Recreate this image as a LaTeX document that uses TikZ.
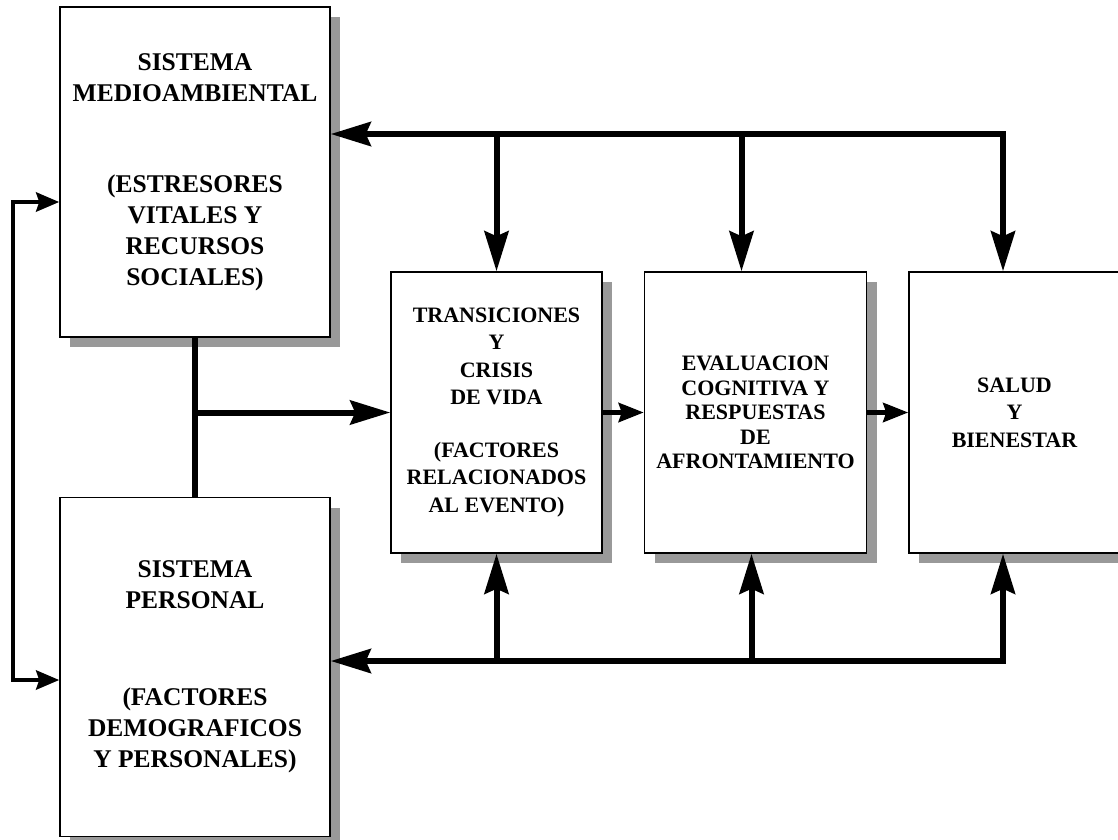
\documentclass[tikz,border=0pt]{standalone}
\usepackage{fontspec}
\setmainfont{Liberation Serif}
\usetikzlibrary{arrows.meta, positioning, shadows, calc}

\begin{document}
\begin{tikzpicture}[
    x=1pt, y=1pt,
    box/.style={rectangle, draw, line width=1.5pt, fill=white, inner sep=0pt, align=center,
        font=\bfseries\fontsize{22}{27.5}\selectfont,
        drop shadow={shadow xshift=10pt, shadow yshift=-10pt, fill=black!40, opacity=1}},
    bigbox/.style={box, minimum width=270pt, font=\bfseries\fontsize{25.5}{31}\selectfont},
    midbox/.style={box, minimum height=281pt},
    arrow/.style={-{Stealth[length=40pt, width=24pt, inset=5pt]}, line width=6pt},
    twoway/.style={{Stealth[length=40pt, width=24pt, inset=5pt]}-{Stealth[length=40pt, width=24pt, inset=5pt]}, line width=6pt},
    link/.style={-{Stealth[length=25pt, width=19pt, inset=3pt]}, line width=5pt},
    feedback/.style={{Stealth[length=23pt, width=19pt, inset=3pt]}-{Stealth[length=23pt, width=19pt, inset=3pt]}, line width=4.5pt}
]
\useasboundingbox (0,0) rectangle (1118,-839);

% Systems
\node[bigbox, minimum height=330pt] (medio) at (195,-172)
    {SISTEMA\\MEDIOAMBIENTAL\\[60pt](ESTRESORES\\VITALES Y\\RECURSOS\\SOCIALES)};
\node[bigbox, minimum height=339pt, below=159pt of medio] (personal)
    {SISTEMA\\PERSONAL\\[66pt](FACTORES\\DEMOGRAFICOS\\Y PERSONALES)};

% Process
\node[midbox, minimum width=211pt] (trans) at (496.5,-412.5)
    {TRANSICIONES\\Y\\CRISIS\\DE VIDA\\[25pt](FACTORES\\RELACIONADOS\\AL EVENTO)};
\node[midbox, minimum width=222pt, right=41pt of trans, font=\bfseries\fontsize{22}{24.5}\selectfont] (eval)
    {EVALUACION\\COGNITIVA Y\\RESPUESTAS\\DE\\AFRONTAMIENTO};
\node[midbox, minimum width=211pt, right=41pt of eval] (salud)
    {SALUD\\Y\\BIENESTAR};

% Buses
\coordinate (tbus) at (1003,-134);
\coordinate (bbus) at (1003,-661);
\coordinate (loopa) at (13,-202);
\coordinate (loopb) at (13,-680);

% Top feedback
\draw[twoway] (tbus |- salud.north) -- (tbus) -- (tbus -| medio.east);
\draw[arrow] (trans.north |- tbus) -- (trans.north);
\draw[arrow] ([xshift=-14pt]eval.north |- tbus) -- ([xshift=-14pt]eval.north);

% Bottom feedback
\draw[twoway] (bbus |- salud.south) -- (bbus) -- (bbus -| personal.east);
\draw[arrow] (trans.south |- bbus) -- (trans.south);
\draw[arrow] ([xshift=-4pt]eval.south |- bbus) -- ([xshift=-4pt]eval.south);

% Left loop
\draw[feedback] (loopa -| medio.west) -- (loopa) -- (loopb) -- (loopb -| personal.west);

% Main flow
\draw[line width=6pt] (medio.south) -- (personal.north);
\draw[arrow] (medio.south |- trans.west) -- (trans.west);
\draw[link] (trans.east) -- (eval.west);
\draw[link] (eval.east) -- (salud.west);

\end{tikzpicture}
\end{document}
